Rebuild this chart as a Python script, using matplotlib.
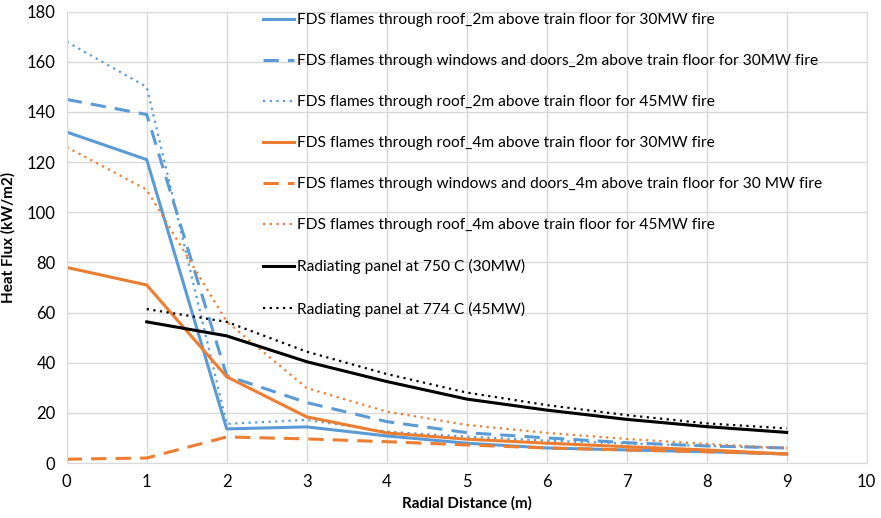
import numpy as np
from matplotlib import pyplot as plt

plt.rcParams['font.family'] = ['Lato', 'DejaVu Sans']

# radial distance (m)
x_fds = [0, 1, 2, 3, 4, 5, 6, 7, 8, 9]
x_panel = [1, 2, 3, 4, 5, 6, 7, 8, 9]

# heat flux (kW/m2)
roof_2m_30 = [132, 121, 13.6, 14.4, 10.8, 7.9, 6.0, 5.2, 4.5, 3.6]
win_2m_30 = [145, 139, 34.8, 24.1, 16.5, 12.1, 10.0, 8.1, 6.8, 6.0]
roof_2m_45 = [168, 150, 15.6, 17.2, 12.5, 10.5, 8.9, 7.8, 6.8, 5.9]
roof_4m_30 = [78, 71, 34.4, 18.4, 12.0, 9.5, 7.9, 6.5, 5.2, 3.6]
win_4m_30 = [1.5, 2.0, 10.4, 9.6, 8.5, 7.2, 6.0, 5.2, 4.5, 3.6]
roof_4m_45 = [126, 109, 56.4, 29.9, 20.5, 15.2, 12.0, 9.6, 7.6, 5.9]
panel_750 = [56.3, 50.7, 40.4, 32.5, 25.5, 21.1, 17.4, 14.5, 12.2]
panel_774 = [61.4, 56.3, 44.4, 35.5, 28.1, 23.1, 19.1, 15.8, 13.8]

labels = [
    'FDS flames through roof_2m above train floor for 30MW fire',
    'FDS flames through windows and doors_2m above train floor for 30MW fire',
    'FDS flames through roof_2m above train floor for 45MW fire',
    'FDS flames through roof_4m above train floor for 30MW fire',
    'FDS flames through windows and doors_4m above train floor for 30 MW fire',
    'FDS flames through roof_4m above train floor for 45MW fire',
    'Radiating panel at 750 C (30MW)',
    'Radiating panel at 774 C (45MW)',
]

blue = '#5B9BD5'
orange = '#ED7D31'

fig = plt.figure(figsize=(8.81, 5.18), dpi=100)
ax = fig.add_axes([66.7 / 881, (518 - 463) / 518, 800 / 881, 451.3 / 518])

ax.plot(x_fds, roof_2m_30, color=blue, lw=2.2, label=labels[0])
ax.plot(x_fds, win_2m_30, color=blue, lw=2.2, dashes=(5, 3), label=labels[1])
ax.plot(x_fds, roof_2m_45, color=blue, lw=1.6, linestyle=(0, (1, 2)), label=labels[2])
ax.plot(x_fds, roof_4m_30, color=orange, lw=2.2, label=labels[3])
ax.plot(x_fds, win_4m_30, color=orange, lw=2.2, dashes=(5, 3), label=labels[4])
ax.plot(x_fds, roof_4m_45, color=orange, lw=1.6, linestyle=(0, (1, 2)), label=labels[5])
ax.plot(x_panel, panel_750, color='black', lw=2.2, label=labels[6])
ax.plot(x_panel, panel_774, color='black', lw=1.6, linestyle=(0, (1, 2)), label=labels[7])

ax.set_xlim(0, 10)
ax.set_ylim(0, 180)
ax.set_xticks(range(0, 11))
ax.set_yticks(range(0, 181, 20))
ax.grid(True, color='#d9d9d9', lw=1)
ax.set_axisbelow(True)
for s in ax.spines.values():
    s.set_color('#d9d9d9')
ax.tick_params(length=0, labelsize=12, pad=8)

ax.set_xlabel('Radial Distance (m)', fontsize=11, fontweight='bold', labelpad=4)
ax.set_ylabel('Heat Flux (kW/m2)', fontsize=11, fontweight='bold', labelpad=8)

leg = ax.legend(loc='upper left', bbox_to_anchor=(0.2415, 1.004), frameon=False,
                fontsize=11.2, labelspacing=1.74, handlelength=2.0, handletextpad=0.2,
                borderpad=0.2, borderaxespad=0)

fig.savefig('out.png', dpi=100)
